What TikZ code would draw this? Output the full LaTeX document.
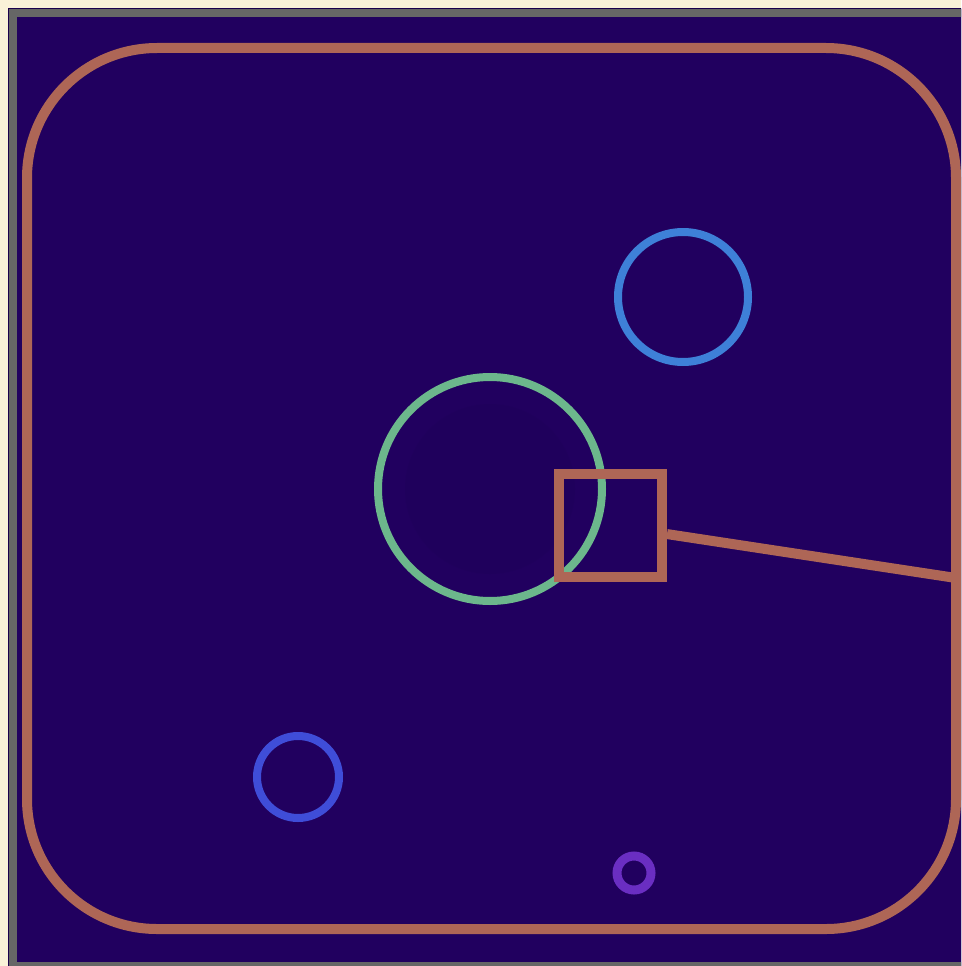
\documentclass[tikz,border=0pt]{standalone}
\definecolor{cream}{HTML}{FAF2D8}
\definecolor{navy}{HTML}{21005F}
\definecolor{framegray}{HTML}{666666}
\definecolor{brick}{HTML}{AE6656}
\definecolor{skyblue}{HTML}{3E80D8}
\definecolor{mint}{HTML}{6CB78C}
\definecolor{royal}{HTML}{3F4DD8}
\definecolor{violet}{HTML}{6A2EC2}
\begin{document}
\begin{tikzpicture}[x=1pt,y=-1pt,
  ring/.style={circle,draw,inner sep=0pt,line width=8pt},
  brickline/.style={draw=brick,line width=10pt}]
\useasboundingbox (0,0) rectangle (961,966);
\clip (0,0) rectangle (961,966);
\fill[cream] (0,0) rectangle (961,966);
\fill[navy!80!black] (8,8) rectangle (975,980);
\fill[navy] (9,9) rectangle (975,980);
\draw[framegray,line width=8pt] (13,13) rectangle (970,966);
% outer rounded panel
\draw[brickline,rounded corners=130pt] (27,48) rectangle (956,929);
% circles
\node[ring,draw=skyblue,minimum size=130pt] (c1) at (683,297) {};
\fill[navy!92!black,opacity=0.35] (490,489) circle (85);
\node[ring,draw=mint,minimum size=224pt] (c2) at (490,489) {};
\node[ring,draw=royal,minimum size=82pt] (c3) at (298,777) {};
\node[ring,draw=violet,line width=9pt,minimum size=34pt] (c4) at (634,873) {};
% square and connector
\node[rectangle,brickline,inner sep=0pt,minimum size=103pt] (sq) at (610.5,525.5) {};
\coordinate (edge) at (956,578);
\draw[brickline] (sq) -- (edge);
\end{tikzpicture}
\end{document}
